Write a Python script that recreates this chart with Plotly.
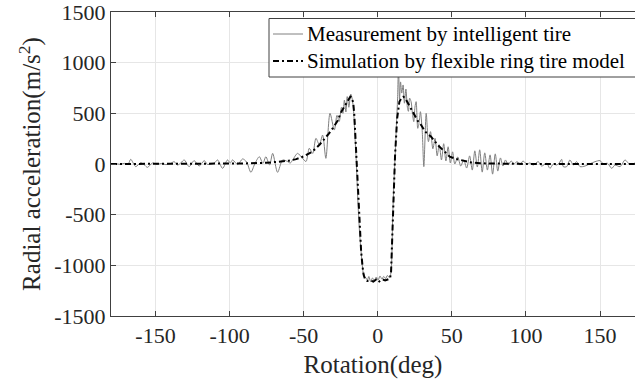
import plotly.graph_objects as go

# ---------------- data ----------------
meas_deg = [-180, -177, -174, -171, -168.5, -166.7, -163.3, -160, -157.5, -155.4, -152, -149, -146, -143, -140,
            -137.4, -135.1, -132.8, -130.6, -127.3, -123.9, -120.5, -117.1, -114.8, -112.6, -110.3, -108.1,
            -104.7, -101.4, -99.5, -98, -94.5, -91.2, -88.5, -85.6, -83, -79.9, -77.5, -75.5, -73, -70.9,
            -67.6, -64.2, -61, -59, -57.4, -54.1, -51, -48.4, -46.2, -43.9, -41.7, -39.4, -37.2, -35, -32.2,
            -29.3, -27.5, -26, -24.5, -23.5, -22.5, -21.5, -20.6, -19.5, -18.2, -17.2, -16.3, -15.5, -14.5,
            -13.3, -12.2, -11.2, -10.2, -9.3, -8.2, -7, -6, -4.8, -3.5, -2.2, -1, 0.3, 1.5, 2.8, 4, 5.3, 6.5,
            7.8, 8.7, 9.3, 10.1, 11, 11.8, 12.6, 13.4, 14, 14.7, 15.4, 16.2, 17.1, 18, 19, 20, 20.7, 21.5,
            22.5, 23.4, 24.3, 25.1, 25.9, 27, 28, 28.8, 30, 31.1, 32.7, 34.2, 35.6, 37.2, 38.7, 40.1, 41.5,
            43, 44.5, 46, 47.5, 49, 50.5, 52, 54, 56, 58, 60, 62, 63.8, 65.5, 67.2, 68.8, 70.5, 72.2, 74,
            75.8, 77.5, 79.3, 81, 82.8, 84.5, 86.2, 88, 90, 92, 94, 96, 98, 100.5, 102.7, 105, 108.3, 110.6,
            114, 116.2, 118.5, 120.7, 122.5, 124.1, 125.2, 127.5, 129.7, 132, 134.2, 136.5, 139.9, 143,
            146.6, 150, 152.3, 155, 157.9, 160.1, 163.5, 166.9, 169.2, 171.4, 173.6]
meas_val = [0, 4, -3, 6, -4, 46, -26, 13, -8, -33, 10, -4, 5, -6, 3,
            23, -10, 12, 40, -26, 33, -20, 33, -5, 0, 8, 40,
            -43, 40, 10, 40, -5, 50, 20, -82, 0, 72, 5, 72, -10, 105,
            -82, 40, 25, 10, 40, 105, 60, 25, 155, 105, 253, 190, 285, 56, 500,
            335, 480, 420, 560, 500, 631, 513, 665, 560, 690, 640, 520, 300, 30,
            -400, -690, -870, -1030, -1110, -1120, -1145, -1110, -1160, -1125, -1150, -1115, -1145, -1105, -1135, -1110, -1130, -1100,
            -1120, -1090, -1000, -520, -150, 100, 380, 650, 960, 640, 810, 700, 780, 600, 740, 560, 520, 650,
            615, 500, 418, 560, 615, 352, 420, 516, 330, -26, 500, 220, 319, 150, 253, 80, 190,
            40, 200, 30, 170, 10, 120, 0, 70, -20, 40, -40, 80, -60, 130, -30, 140, -80, 110, -60,
            90, -100, 100, -70, 60, -20, 40, -10, 30, 0, 25, -10, 30, 0, 10, -10, 23, -20,
            7, -43, 0, -10, 10, 46, -26, -26, 40, -10, 23, -26, -20, 0,
            23, 33, 0, 7, -43, -10, -26, 40, 7, 0, 10]

sim_deg = [-180, -140, -110, -90, -75, -65, -60, -55, -50, -45, -42, -39, -36, -33, -30, -27, -24.8, -22,
           -20, -18.5, -17.5, -16.5, -15.8, -15, -14.3, -13.1, -12, -11.2, -10.2, -9.5, -8.5, -7, -5, -3,
           -1, 0.5, 2, 3.5, 5, 7, 8.3, 9, 10.1, 11.2, 11.7, 13.1, 14.6, 16, 17.2, 18.5, 20, 22.5, 25, 27,
           29.3, 32, 36, 40.5, 44, 48.6, 53, 57.7, 63, 69, 80, 100, 173.6]
sim_val = [0, 0, 2, 5, 12, 22, 32, 48, 75, 115, 150, 195, 245, 300, 360, 430, 510, 580,
           635, 665, 655, 600, 483, 250, 0, -437, -700, -864, -1020, -1094, -1140, -1155, -1150, -1160,
           -1140, -1165, -1150, -1140, -1150, -1140, -1130, -1062, -503, -120, 89, 450, 614, 650, 664, 650, 610, 549, 470, 425,
           385, 320, 269, 187, 138, 72, 50, 33, 15, 7, 2, 0, 0]

x_tick_vals = [-150, -100, -50, 0, 50, 100, 150]
x_tick_text = ["-150", "-100", "-50", "0", "50", "100", "150"]
y_tick_vals = [-1500, -1000, -500, 0, 500, 1000, 1500]
y_tick_text = ["-1500", "-1000", "-500", "0", "500", "1000", "1500"]

series_names = ["Measurement by intelligent tire", "Simulation by flexible ring tire model"]

# ---------------- figure ----------------
FONT = "Liberation Serif, Times New Roman, serif"
W, H = 635, 388
ML, MR, MT, MB = 111, 0, 12, 72
PW, PH = W - ML - MR, H - MT - MB

def px2x(px):
    return (px - ML) / PW

def py2y(py):
    return (H - MB - py) / PH

meas_style = dict(color="#808080", width=1)
sim_style = dict(color="#000000", width=2, dash="6px,3px,2px,3px")

fig = go.Figure()
fig.add_trace(go.Scatter(x=meas_deg, y=meas_val, mode="lines", name=series_names[0],
                         line=dict(shape="spline", smoothing=0.8, **meas_style)))
fig.add_trace(go.Scatter(x=sim_deg, y=sim_val, mode="lines", name=series_names[1],
                         line=sim_style))

# manual legend box (MATLAB-style, opaque)
leg_left, leg_top, leg_bottom = 269, 18.5, 77
row_y = [34, 61]
fig.add_shape(type="rect", xref="paper", yref="paper",
              x0=px2x(leg_left), x1=px2x(W + 10), y0=py2y(leg_bottom), y1=py2y(leg_top),
              fillcolor="white", line=dict(color="#404040", width=1), layer="above")
for i, style in enumerate([meas_style, sim_style]):
    fig.add_shape(type="line", xref="paper", yref="paper",
                  x0=px2x(273), x1=px2x(303), y0=py2y(row_y[i]), y1=py2y(row_y[i]),
                  line=style, layer="above")
    fig.add_annotation(xref="paper", yref="paper", x=px2x(305), y=py2y(row_y[i]),
                       xanchor="left", yanchor="middle", showarrow=False,
                       text=series_names[i], font=dict(family=FONT, size=21, color="#000000"))

axis_common = dict(showgrid=True, gridcolor="#e6e6e6", gridwidth=1, zeroline=False,
                   showline=True, linecolor="#404040", linewidth=1,
                   ticks="inside", ticklen=5, tickcolor="#404040", ticklabeloverflow="allow",
                   tickfont=dict(family=FONT, size=22, color="#262626"))

fig.update_layout(
    width=W, height=H,
    margin=dict(l=ML, r=MR, t=MT, b=MB),
    paper_bgcolor="white", plot_bgcolor="white",
    font=dict(family=FONT, color="#262626"),
    showlegend=False,
    xaxis=dict(range=[-180, 173.6], tickvals=x_tick_vals, ticktext=x_tick_text, mirror="ticks",
               title=dict(text="Rotation(deg)", font=dict(family=FONT, size=25, color="#262626"), standoff=8),
               **axis_common),
    yaxis=dict(range=[-1500, 1500], tickvals=y_tick_vals, ticktext=y_tick_text, mirror=False,
               title=dict(text="Radial acceleration(m/s<sup>2</sup>)", font=dict(family=FONT, size=25, color="#262626"), standoff=6),
               **axis_common),
)

fig.write_html("out.html")
